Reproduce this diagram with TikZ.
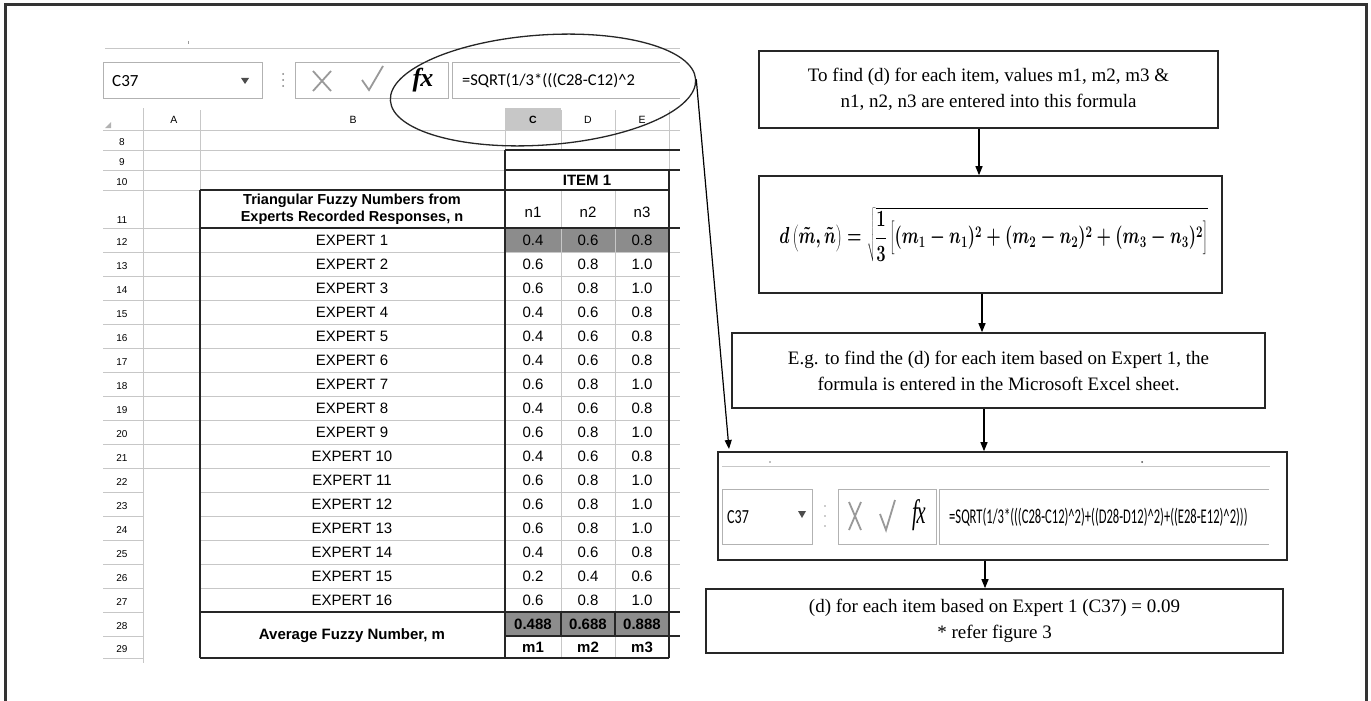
\documentclass[tikz,border=0pt]{standalone}
\usepackage{fontspec}
\usepackage{graphicx}
\setmainfont{Liberation Serif}
\newfontfamily\carl{Carlito}
\newfontfamily\xls{Liberation Sans}
\usetikzlibrary{arrows.meta,shapes.geometric,calc}
\begin{document}
\begin{tikzpicture}[x=1pt,y=-1pt,
  flow/.style={draw=black!85,line width=1.6pt,inner sep=0pt,align=center,font=\fontsize{19}{26}\selectfont},
  arr/.style={draw=black,line width=1.2pt,-{Triangle[length=9pt,width=7pt]}},
  frame/.style={draw=black!80,line width=3pt},
  gl/.style={draw=black!22,line width=0.9pt},
  bl/.style={draw=black!85,line width=1.5pt},
  gbox/.style={draw=black!30,line width=1pt,inner sep=0pt},
  cell/.style={inner sep=0pt,font=\xls\fontsize{15}{17}\selectfont},
  bcell/.style={inner sep=0pt,font=\xls\bfseries\fontsize{15}{17}\selectfont},
  rnum/.style={inner sep=0pt,font=\xls\fontsize{10}{12}\selectfont},
  chead/.style={inner sep=0pt,font=\xls\fontsize{10.5}{12}\selectfont},
  icon/.style={draw=black!40,line width=1.8pt},
  shade/.style={fill=black!45},
]
\useasboundingbox (0,0) rectangle (1371,701);
\draw[frame] (5,701) -- (5,5) -- (1366,5) -- (1366,701);

% ---------- top excel bar ----------
\draw[gl] (105,48) -- (680,48);
\draw[black!40,line width=1pt] (188,41) -- (188,44);
\node[gbox,minimum width=159,minimum height=35] (nb1) at (182.5,80.5) {};
\node[anchor=west,inner sep=0pt,font=\carl\fontsize{17}{17}\selectfont] (nm1) at (112,81) {C37};
\fill[black!70] (241,78) -- (249,78) -- (245,84) -- cycle;
\foreach \yy in {74,80,86} \fill[black!50] (283,\yy) circle (1);
\node[gbox,minimum width=153,minimum height=35] (bt1) at (371.5,80.5) {};
\draw[icon] (313,71) -- (331,91) (331,71) -- (313,91);
\draw[icon] (362,80) -- (369,90) -- (383,66);
\node[inner sep=0pt,font=\fontsize{26}{26}\selectfont\itshape\bfseries] (fx1) at (423,80) {f\kern-1pt x};
\draw[gbox] (680,63) -- (452,63) -- (452,98) -- (680,98);
\begin{scope}
\clip (452,60) rectangle (681,100);
\node[anchor=west,inner sep=0pt,font=\carl\fontsize{16.5}{17}\selectfont] (fm1) at (462,81) {=SQRT(1/3*(((C28-C12)\textasciicircum 2};
\end{scope}

% ---------- sheet fills ----------
\fill[black!22] (505,108) rectangle (561,130);
\fill[shade] (505,228) rectangle (669,252);
\fill[shade] (505,612) rectangle (669,636);

% ---------- grid: gray ----------
\draw[gl] (103,130) -- (680,130);
\foreach \xx in {143,200,505,561,615,669} \draw[gl] (\xx,110) -- (\xx,130);
\fill[black!30] (105,128) -- (111,128) -- (111,122) -- cycle;
\foreach \yy in {150,170} \draw[gl] (103,\yy) -- (505,\yy);
\draw[gl] (103,190) -- (200,190);
\draw[gl] (103,228) -- (200,228);
\foreach \yy in {252,276,...,588} \draw[gl] (103,\yy) -- (143,\yy) (200,\yy) -- (680,\yy);
\foreach \yy in {252,276,...,468} \draw[gl] (143,\yy) -- (200,\yy);
\foreach \yy in {612,636,658} \draw[gl] (103,\yy) -- (143,\yy);
\draw[gl] (143,108) -- (143,663);
\draw[gl] (200,130) -- (200,190);
\draw[gl] (505,130) -- (505,150);
\foreach \xx in {561,615} \draw[gl] (\xx,130) -- (\xx,150) (\xx,190) -- (\xx,612) (\xx,636) -- (\xx,658);
\draw[gl] (669,130) -- (669,170);

% ---------- grid: black ----------
\draw[bl] (505,150) -- (680,150);
\draw[bl] (505,170) -- (680,170);
\draw[bl] (200,190) -- (669,190);
\draw[bl] (200,228) -- (680,228);
\draw[bl] (200,612) -- (680,612);
\draw[bl] (505,636) -- (680,636);
\draw[bl] (200,658) -- (669,658);
\draw[bl] (200,190) -- (200,658);
\draw[bl] (505,150) -- (505,658);
\draw[bl] (669,170) -- (669,658);
\draw[bl] (561,612) -- (561,636);
\draw[bl] (615,612) -- (615,636);

% ---------- column headers ----------
\node[chead] (hA) at (174,120) {A};
\node[chead] (hB) at (353,120) {B};
\node[chead,font=\xls\bfseries\fontsize{10.5}{12}\selectfont] (hC) at (533,120) {C};
\node[chead] (hD) at (588,120) {D};
\node[chead] (hE) at (642,120) {E};

% ---------- row numbers ----------
\node[rnum] (r8) at (122,142) {8};
\node[rnum] (r9) at (122,162) {9};
\node[rnum] (r10) at (122,182) {10};
\node[rnum] (r11) at (122,220) {11};
\foreach \r in {12,...,27} {
  \pgfmathsetmacro{\yy}{242+(\r-12)*24}
  \node[rnum] (r\r) at (122,\yy) {\r};
}
\node[rnum] (r28) at (122,626) {28};
\node[rnum] (r29) at (122,649) {29};

% ---------- table text ----------
\node[bcell] (item) at (587,180) {ITEM 1};
\node[bcell,align=center,font=\xls\bfseries\fontsize{14.5}{17}\selectfont] (tfn) at (352,209) {Triangular Fuzzy Numbers from\\Experts Recorded Responses, n};
\node[cell] (n1) at (533,212) {n1};
\node[cell] (n2) at (588,212) {n2};
\node[cell] (n3) at (642,212) {n3};
\foreach \i/\a/\b/\c in {1/0.4/0.6/0.8,2/0.6/0.8/1.0,3/0.6/0.8/1.0,4/0.4/0.6/0.8,5/0.4/0.6/0.8,6/0.4/0.6/0.8,7/0.6/0.8/1.0,8/0.4/0.6/0.8,9/0.6/0.8/1.0,10/0.4/0.6/0.8,11/0.6/0.8/1.0,12/0.6/0.8/1.0,13/0.6/0.8/1.0,14/0.4/0.6/0.8,15/0.2/0.4/0.6,16/0.6/0.8/1.0} {
  \pgfmathsetmacro{\yy}{240+(\i-1)*24}
  \node[cell] (ex\i) at (352,\yy) {EXPERT \i};
  \node[cell] (va\i) at (533,\yy) {\a};
  \node[cell] (vb\i) at (588,\yy) {\b};
  \node[cell] (vc\i) at (642,\yy) {\c};
}
\node[bcell] (avg) at (352,636) {Average Fuzzy Number, m};
\node[bcell] (a1) at (533,624) {0.488};
\node[bcell] (a2) at (588,624) {0.688};
\node[bcell] (a3) at (642,624) {0.888};
\node[bcell] (m1) at (533,647) {m1};
\node[bcell] (m2) at (588,647) {m2};
\node[bcell] (m3) at (642,647) {m3};

% ---------- ellipse highlight ----------
\node[draw=black!85,line width=1.3pt,ellipse,minimum width=306,minimum height=110,inner sep=0pt,rotate=4] (ell) at (543,90) {};
\coordinate (tip) at (729,449);
\draw[arr] (ell.east) -- (tip);

% ---------- flow boxes ----------
\node[flow,minimum width=459,minimum height=77] (b1) at (988.5,89.5) {To find (d) for each item, values m1, m2, m3 \&\\ n1, n2, n3 are entered into this formula};
\node[flow,minimum width=463,minimum height=117,font=\fontsize{21}{25}\selectfont] (b2) at (990.5,234.5)
  {\hspace*{6pt}\scalebox{0.8}[1.12]{\boldmath$\displaystyle d\left(\rule{0pt}{17pt}\tilde{m},\tilde{n}\right)=\sqrt{\frac{1}{3}\left[\rule{0pt}{19pt}(m_1-n_1)^2+(m_2-n_2)^2+(m_3-n_3)^2\right]}$}};
\node[flow,minimum width=533,minimum height=75] (b3) at (998.5,370.5) {E.g. to find the (d) for each item based on Expert 1, the\\ formula is entered in the Microsoft Excel sheet.};
\node[flow,minimum width=569,minimum height=108] (b4) at (1002.5,506) {};
\node[flow,minimum width=577,minimum height=64] (b5) at (994.5,621) {(d) for each item based on Expert 1 (C37) = 0.09\\ * refer figure 3};

% ---------- excel bar inside b4 ----------
\draw[gl] (722,466) -- (1270,466);
\fill[black!50] (770,462) circle (0.8);
\fill[black!70] (1142,462) circle (1);
\node[gbox,minimum width=90,minimum height=55] (nb2) at (767,516.5) {};
\node[anchor=west,inner sep=0pt] (nm2) at (727,517) {\scalebox{0.7}[1]{\carl\fontsize{20}{20}\selectfont C37}};
\fill[black!70] (798,511) -- (806,511) -- (802,518) -- cycle;
\foreach \yy in {506,516,526} \fill[black!40] (825,\yy) circle (0.9);
\node[gbox,minimum width=98,minimum height=55] (bt2) at (887,516.5) {};
\draw[icon] (849,502) -- (861,530) (861,502) -- (849,530);
\draw[icon] (880,514) -- (886,530) -- (895,500);
\node[inner sep=0pt] (fx2) at (919,515) {\scalebox{0.6}[1]{\fontsize{34}{34}\selectfont\itshape f\kern-2pt x}};
\draw[gbox] (1269,489) -- (939,489) -- (939,544) -- (1269,544);
\node[anchor=west,inner sep=0pt] (fm2) at (949,517) {\scalebox{0.6}[1]{\carl\fontsize{21}{21}\selectfont =SQRT(1/3*(((C28-C12)\textasciicircum 2)+((D28-D12)\textasciicircum 2)+((E28-E12)\textasciicircum 2)))}};

% ---------- flow arrows ----------
\coordinate (xa) at (979,0);
\coordinate (xb) at (982,0);
\coordinate (xc) at (984,0);
\coordinate (xd) at (985,0);
\draw[arr] (b1.south -| xa) -- (b2.north -| xa);
\draw[arr] (b2.south -| xb) -- (b3.north -| xb);
\draw[arr] (b3.south -| xc) -- (b4.north -| xc);
\draw[arr] (b4.south -| xd) -- (b5.north -| xd);
\end{tikzpicture}
\end{document}
